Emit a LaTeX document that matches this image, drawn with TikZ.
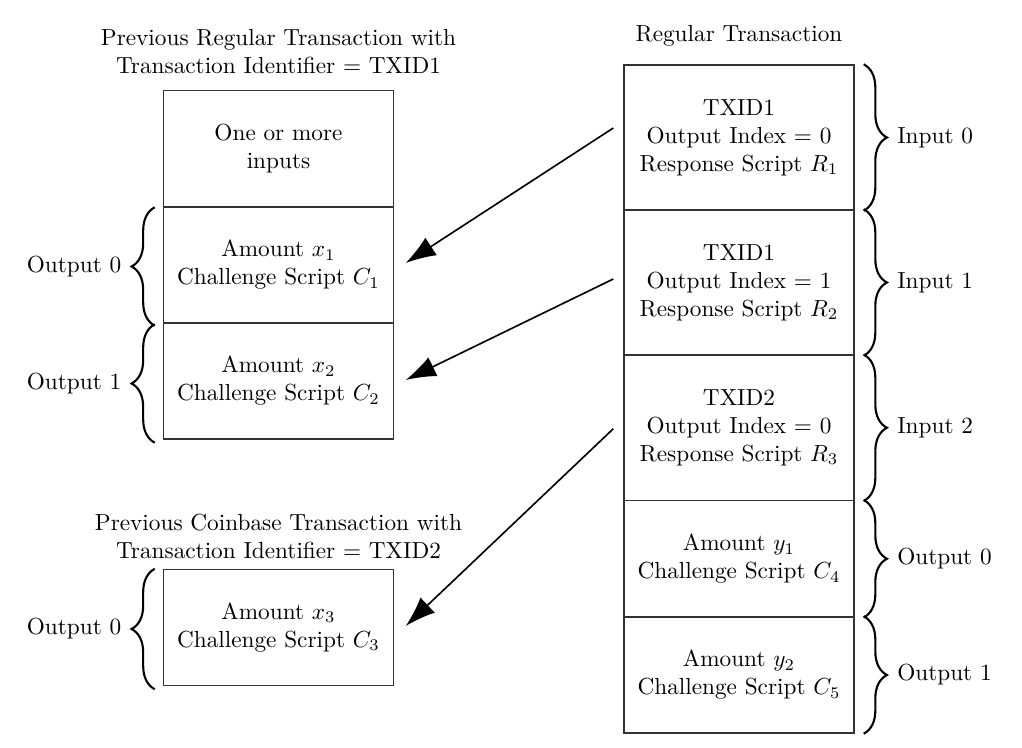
\documentclass[tikz,border=0pt]{standalone}
\usetikzlibrary{arrows.meta,decorations.pathreplacing,calc}
\begin{document}
\begin{tikzpicture}[x=0.43pt,y=-0.43pt,
  cell/.style={draw=black!80,line width=0.6pt,inner sep=0pt,minimum width=98.9pt,align=center},
  lcell/.style={cell,minimum height=49.9pt},
  icell/.style={cell,minimum height=62.35pt},
  title/.style={align=center,inner sep=0pt},
  link/.style={line width=0.7pt,-{Latex[length=13pt,width=9pt]}},
  brc/.style={decorate,decoration={brace,amplitude=10pt},line width=0.9pt},
  lab/.style={inner sep=0pt}]
\useasboundingbox (0,0) rectangle (1022,748);

% left: previous regular transaction
\node[lcell] (L0) at (278.5,148.75) {One or more\\inputs};
\node[lcell] (L1) at (278.5,265) {Amount $x_1$\\Challenge Script $C_1$};
\node[lcell] (L2) at (278.5,381) {Amount $x_2$\\Challenge Script $C_2$};
\node[title] (T1) at (278.5,52) {Previous Regular Transaction with\\Transaction Identifier = TXID1};

% left: previous coinbase transaction
\node[lcell] (L3) at (278.5,627.5) {Amount $x_3$\\Challenge Script $C_3$};
\node[title] (T2) at (278.5,536) {Previous Coinbase Transaction with\\Transaction Identifier = TXID2};

% right: regular transaction
\node[icell] (R0) at (739,137.5) {TXID1\\Output Index = 0\\Response Script $R_1$};
\node[icell] (R1) at (739,282.5) {TXID1\\Output Index = 1\\Response Script $R_2$};
\node[icell] (R2) at (739,427.75) {TXID2\\Output Index = 0\\Response Script $R_3$};
\node[lcell] (R3) at (739,558.75) {Amount $y_1$\\Challenge Script $C_4$};
\node[lcell] (R4) at (739,675) {Amount $y_2$\\Challenge Script $C_5$};
\node[title] (T3) at (739,36) {Regular Transaction};

% arrows
\draw[link] ($(R0.west)+(-10,-9.5)$) -- ($(L1.east)+(11.5,-2)$);
\draw[link] ($(R1.west)+(-10,-3.5)$) -- ($(L2.east)+(11.5,-1)$);
\draw[link] ($(R2.west)+(-10,1)$) -- ($(L3.east)+(11.5,-1.5)$);

% left braces
\draw[brc] ($(L1.south west)+(-8,2)$) -- ($(L1.north west)+(-8,1)$)
  node[lab,midway,left=14pt] {Output 0};
\draw[brc] ($(L2.south west)+(-8,3)$) -- ($(L2.north west)+(-8,2)$)
  node[lab,midway,left=14pt] {Output 1};
\draw[brc] ($(L3.south west)+(-8,3)$) -- ($(L3.north west)+(-8,0)$)
  node[lab,midway,left=14pt] {Output 0};

% right braces
\draw[brc] ($(R0.north east)+(9,0)$) -- ($(R0.south east)+(9,0)$)
  node[lab,midway,right=14pt] {Input 0};
\draw[brc] ($(R1.north east)+(9,0)$) -- ($(R1.south east)+(9,0)$)
  node[lab,midway,right=14pt] {Input 1};
\draw[brc] ($(R2.north east)+(9,0)$) -- ($(R2.south east)+(9,0)$)
  node[lab,midway,right=14pt] {Input 2};
\draw[brc] ($(R3.north east)+(9,0)$) -- ($(R3.south east)+(9,0)$)
  node[lab,midway,right=14pt] {Output 0};
\draw[brc] ($(R4.north east)+(9,0)$) -- ($(R4.south east)+(9,0)$)
  node[lab,midway,right=14pt] {Output 1};
\end{tikzpicture}
\end{document}
